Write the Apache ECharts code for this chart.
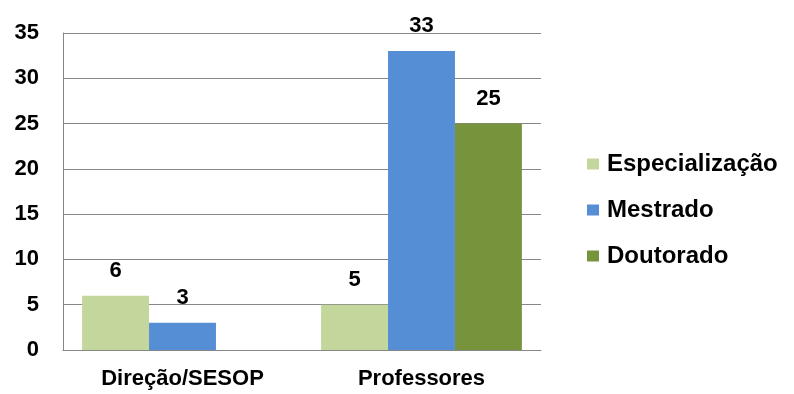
<!DOCTYPE html>
<html>
<head>
<meta charset="utf-8">
<script src="https://cdn.jsdelivr.net/npm/echarts@6/dist/echarts.min.js"></script>
<style>
  html, body { margin: 0; padding: 0; background: #fff; }
  #chart { width: 794px; height: 394px; }
</style>
</head>
<body>
<div id="chart"></div>
<script>
const categories = ['Direção/SESOP', 'Professores']
const especializacao = [6, 5]
const mestrado = [3, 33]
const doutorado = [null, 25]
const seriesNames = ['Especialização', 'Mestrado', 'Doutorado']
const colors = ['#c3d69b', '#558ed5', '#77933c']

const font = { fontFamily: 'Liberation Sans', fontWeight: 'bold', fontSize: 22, color: '#000' }

const chart = echarts.init(document.getElementById('chart'))
const values = [especializacao, mestrado, doutorado]

chart.setOption({
  animation: false,
  color: colors,
  grid: { left: 63, right: 253, top: 33, bottom: 44 },
  legend: {
    orient: 'vertical',
    left: 582,
    top: 147,
    itemWidth: 12,
    itemHeight: 11,
    itemGap: 22,
    icon: 'rect',
    textStyle: Object.assign({}, font, { fontSize: 24, padding: [0, 0, 0, 3] }),
    data: seriesNames
  },
  xAxis: {
    type: 'category',
    data: categories,
    axisLine: { lineStyle: { color: '#868686', width: 1 } },
    axisTick: { show: false },
    axisLabel: Object.assign({}, font, { margin: 18 })
  },
  yAxis: {
    type: 'value',
    min: 0,
    max: 35,
    interval: 5,
    axisLine: { show: true, lineStyle: { color: '#868686', width: 1 } },
    axisTick: { show: false },
    splitLine: { lineStyle: { color: '#868686', width: 1 } },
    axisLabel: Object.assign({}, font, { margin: 24 })
  },
  series: seriesNames.map((name, i) => ({
    name: name,
    type: 'bar',
    data: values[i],
    barGap: '0%',
    barCategoryGap: '16%',
    label: Object.assign({ show: true, position: 'top', distance: 14 }, font)
  }))
})
</script>
</body>
</html>
